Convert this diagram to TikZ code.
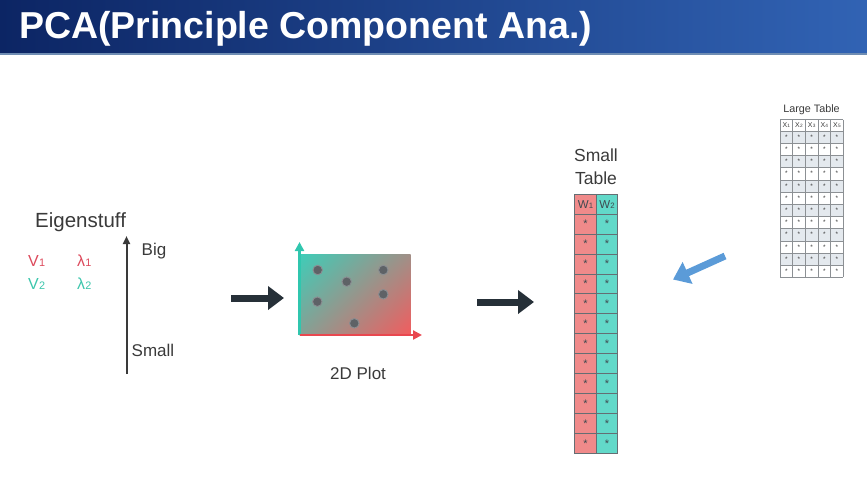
\documentclass[tikz,border=0pt]{standalone}
\usepackage{fontspec}
\setmainfont{Liberation Sans}
\usetikzlibrary{positioning, arrows.meta, calc, shadings}
\definecolor{navyL}{HTML}{0C2564}
\definecolor{navyM}{HTML}{1D4C9A}
\definecolor{navyR}{HTML}{3163B4}
\definecolor{barline}{HTML}{6F8DB3}
\definecolor{ink}{HTML}{3A3A3A}
\definecolor{vred}{HTML}{DC4A5C}
\definecolor{vteal}{HTML}{3CC6AC}
\definecolor{darkarrow}{HTML}{263038}
\definecolor{bluearrow}{HTML}{5B9BD8}
\definecolor{plotteal}{HTML}{3ECDB8}
\definecolor{plotred}{HTML}{F25C5E}
\definecolor{axteal}{HTML}{30C6AE}
\definecolor{axred}{HTML}{E9474F}
\definecolor{dotfill}{HTML}{5E6266}
\definecolor{dotline}{HTML}{8A8E92}
\definecolor{tabred}{HTML}{F08A8A}
\definecolor{tabteal}{HTML}{62D9C9}
\definecolor{tabline}{HTML}{3F4A50}
\definecolor{lgrid}{HTML}{8C9094}
\definecolor{lshade}{HTML}{E4E9EE}
\newcommand{\lowidx}[2]{#1\kern0.2pt\scalebox{0.68}{#2}}

\begin{document}
\begin{tikzpicture}[x=1pt, y=-1pt, text=ink, >={Triangle[length=8pt, width=7pt]},
  lbl/.style={inner sep=0pt, anchor=base west},
  fat/.style={line width=7pt, -{Triangle[length=16pt, width=23pt]}},
  axis/.style={line width=2.6pt, -{Triangle[length=9pt, width=9pt]}},
  dot/.style={circle, draw=dotline, fill=dotfill, line width=0.9pt, minimum size=9.5pt, inner sep=0pt},
  sstar/.style={inner sep=0pt, font=\fontsize{11}{11}\selectfont, text=tabline},
  lstar/.style={inner sep=0pt, font=\fontsize{6.5}{6.5}\selectfont, text=ink},
  hdr/.style={inner sep=0pt, font=\fontsize{7}{7}\selectfont, text=ink}]
  \useasboundingbox (0,0) rectangle (867,491);
  % title bar
  \shade[left color=navyL, middle color=navyM, right color=navyR] (0,0) rectangle (867,53);
  \draw[barline, line width=1.5pt] (0,53.75) -- (867,53.75);
  \node[lbl, text=white, font=\fontsize{37.5}{40}\selectfont\bfseries] (title) at (19,38) {PCA(Principle Component Ana.)};
  % eigenstuff
  \node[lbl, font=\fontsize{20.5}{24}\selectfont] (eigen) at (35,227) {Eigenstuff};
  \node[lbl, text=vred, font=\fontsize{16}{18}\selectfont] (vone) at (28,266) {\lowidx{V}{1}};
  \node[lbl, text=vred, font=\fontsize{16}{18}\selectfont] (lone) at (77,266) {\lowidx{λ}{1}};
  \node[lbl, text=vteal, font=\fontsize{16}{18}\selectfont] (vtwo) at (28,289) {\lowidx{V}{2}};
  \node[lbl, text=vteal, font=\fontsize{16}{18}\selectfont] (ltwo) at (77,289) {\lowidx{λ}{2}};
  \coordinate (lo) at (126.5,374);
  \coordinate (hi) at (126.5,236);
  \draw[->, line width=2pt, ink] (lo) -- (hi);
  \node[lbl, font=\fontsize{17}{20}\selectfont] (big) at (141.5,255) {Big};
  \node[lbl, font=\fontsize{17}{20}\selectfont] (small) at (131.5,356.5) {Small};
  % big arrows
  \coordinate (a1s) at (231,298);
  \coordinate (a1e) at (284,298);
  \draw[fat, darkarrow] (a1s) -- (a1e);
  \coordinate (a2s) at (477,302);
  \coordinate (a2e) at (534,302);
  \draw[fat, darkarrow] (a2s) -- (a2e);
  % 2d plot
  \shade[upper left=plotteal, upper right=plotred!55!plotteal, lower left=plotteal!60!plotred, lower right=plotred] (299.5,254) rectangle (410.5,335);
  \coordinate (org) at (299.5,335);
  \coordinate (ytip) at (299.5,242);
  \coordinate (xtip) at (422,335);
  \draw[axis, axteal] (org) -- (ytip);
  \draw[axis, axred] (org) -- (xtip);
  \foreach \x/\y [count=\k] in {317.7/270, 346.7/281.7, 383.3/270, 317.3/301.7, 383.3/294.3, 354.3/323.3}
    \node[dot] (p\k) at (\x,\y) {};
  \node[lbl, font=\fontsize{17}{20}\selectfont] (plotlbl) at (330,379.5) {2D Plot};
  % small table
  \node[inner sep=0pt, anchor=base, font=\fontsize{17.5}{20}\selectfont] (stla) at (596,161) {Small};
  \node[inner sep=0pt, anchor=base, font=\fontsize{17.5}{20}\selectfont] (stlb) at (596,184) {Table};
  \fill[tabred] (574.5,194) rectangle (596,453.5);
  \fill[tabteal] (596,194) rectangle (617.5,453.5);
  \foreach \i in {0,...,11}
    \draw[tabline!80, line width=0.7pt] (574.5,{214+19.96*\i}) -- (617.5,{214+19.96*\i});
  \draw[tabline!80, line width=0.8pt] (574.5,194) rectangle (617.5,453.5);
  \draw[tabline!80, line width=0.8pt] (596,194) -- (596,453.5);
  \node[inner sep=0pt, font=\fontsize{11.5}{11}\selectfont, text=tabline] (wone) at (585.5,205) {\lowidx{W}{1}};
  \node[inner sep=0pt, font=\fontsize{11.5}{11}\selectfont, text=tabline] (wtwo) at (607,205) {\lowidx{W}{2}};
  \foreach \i in {1,...,12} {
    \node[sstar] (sa\i) at (585.5,{204+19.96*\i}) {*};
    \node[sstar] (sb\i) at (607,{204+19.96*\i}) {*};
  }
  % blue arrow
  \coordinate (bs) at (725,256);
  \coordinate (be) at (673,279.5);
  \draw[fat, bluearrow] (bs) -- (be);
  % large table
  \node[inner sep=0pt, anchor=base, font=\fontsize{10.8}{12}\selectfont] (ltl) at (811.5,112.5) {Large Table};
  \foreach \i in {1,3,...,11}
    \fill[lshade] (780,{131+12.2*(\i-1)}) rectangle (843.3,{131+12.2*\i});
  \foreach \i in {0,...,12}
    \draw[lgrid, line width=0.5pt] (780,{131+12.2*\i}) -- (843.3,{131+12.2*\i});
  \draw[lgrid, line width=0.5pt] (780,119.5) -- (843.3,119.5);
  \foreach \j in {0,...,5}
    \draw[lgrid, line width=0.5pt] ({780+12.66*\j},119.5) -- ({780+12.66*\j},277.4);
  \foreach \j in {1,...,5} {
    \node[hdr] (h\j) at ({780+12.66*(\j-0.5)},125.5) {\lowidx{X}{\j}};
    \foreach \i in {1,...,12}
      \node[lstar] (c\i-\j) at ({780+12.66*(\j-0.5)},{131+12.2*(\i-0.5)}) {*};
  }
\end{tikzpicture}
\end{document}
